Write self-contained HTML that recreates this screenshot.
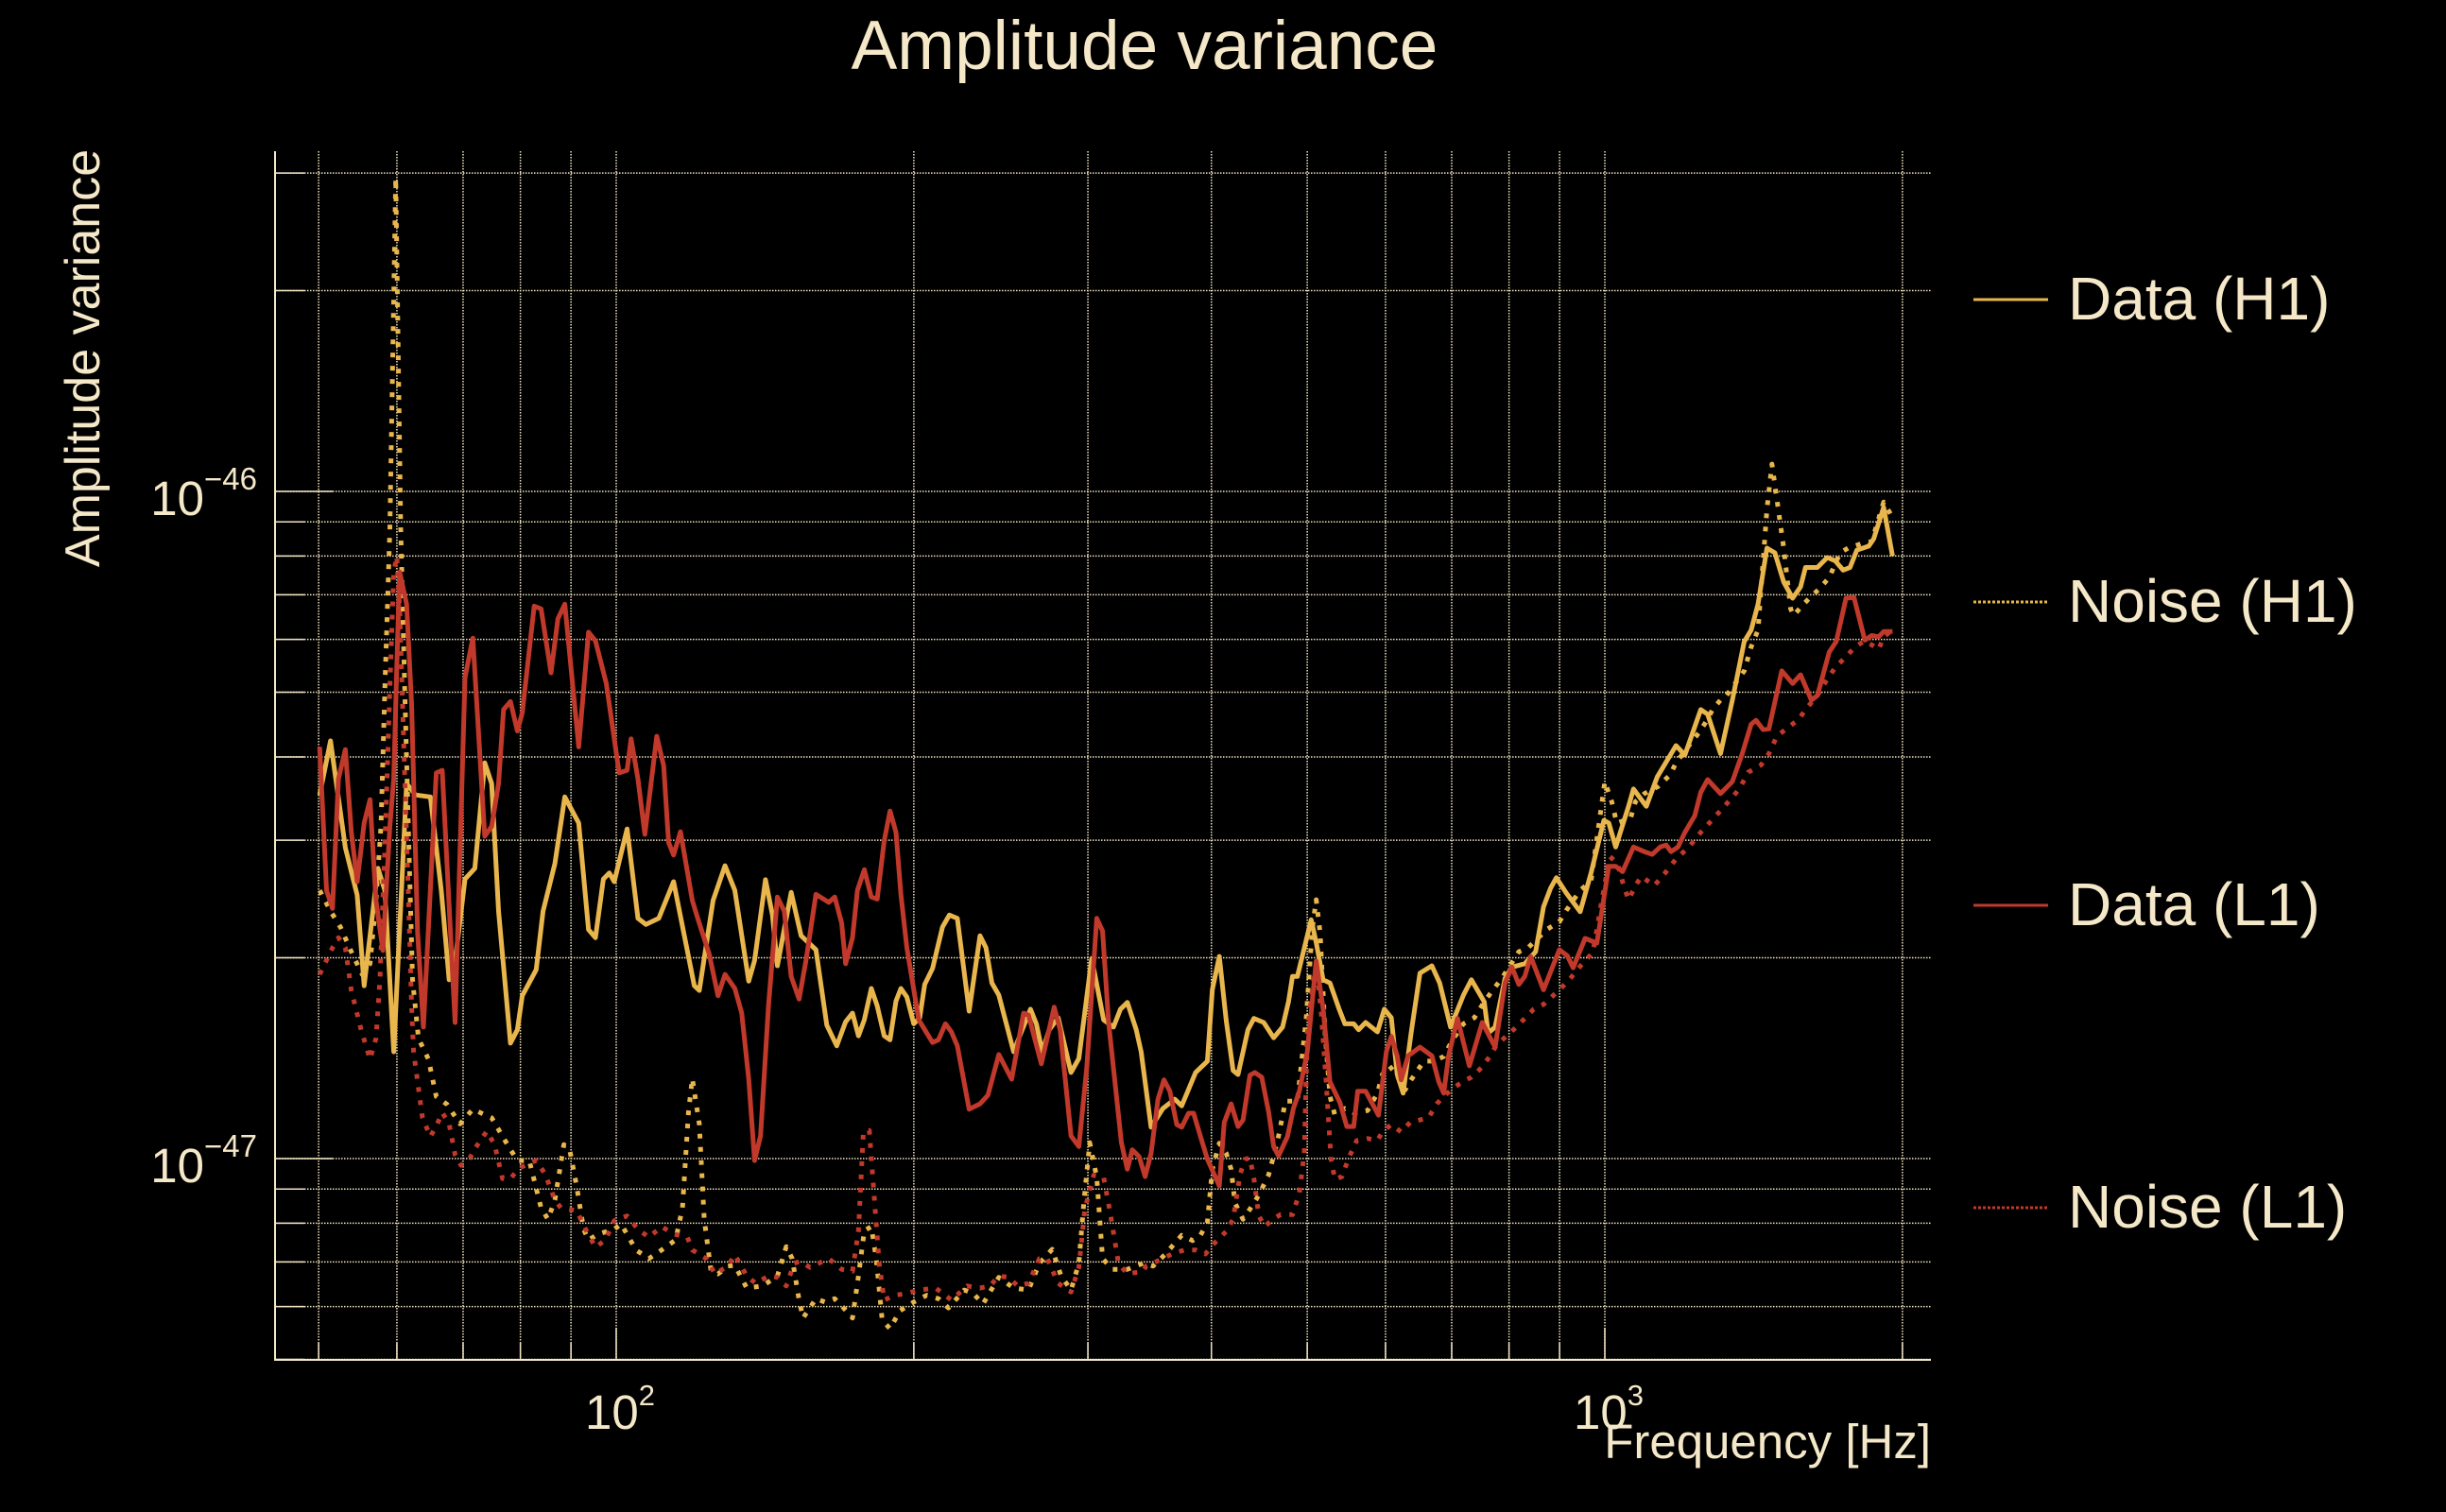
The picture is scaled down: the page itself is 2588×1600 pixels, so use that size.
<!DOCTYPE html>
<html><head><meta charset="utf-8"><title>Amplitude variance</title>
<style>
html,body{margin:0;padding:0;background:#000;}
svg{display:block;font-family:"Liberation Sans",sans-serif;}
</style></head>
<body>
<svg id="chart" width="2588" height="1600" viewBox="0 0 2588 1600" xmlns="http://www.w3.org/2000/svg">
<rect x="0" y="0" width="2588" height="1600" fill="#000"/>
<defs><clipPath id="plotclip"><rect x="292" y="160" width="1751" height="1279"/></clipPath></defs>
<text x="1211" y="73" font-size="73" fill="#f5e8c8" text-anchor="middle">Amplitude variance</text>
<text transform="translate(105,379) rotate(-90)" font-size="52" fill="#f5e8c8" text-anchor="middle">Amplitude variance</text>
<text x="2043" y="1543" font-size="51" fill="#f5e8c8" text-anchor="end">Frequency [Hz]</text>
<g id="grid"></g>
<g id="ticks"></g>
<line x1="291" y1="160" x2="291" y2="1440" stroke="#f5e8c8" stroke-width="2"/>
<line x1="291" y1="1439" x2="2043" y2="1439" stroke="#f5e8c8" stroke-width="2"/>
<g id="series" clip-path="url(#plotclip)"></g>
<g id="legend">
  <g>
    <line x1="2088" y1="317" x2="2167" y2="317" stroke="#e8b64c" stroke-width="3"/>
    <text x="2188" y="338" font-size="64" fill="#f5e8c8">Data (H1)</text>
  </g>
  <g>
    <line x1="2088" y1="637" x2="2167" y2="637" stroke="#e8b64c" stroke-width="3" stroke-dasharray="3 2"/>
    <text x="2188" y="658" font-size="64" fill="#f5e8c8">Noise (H1)</text>
  </g>
  <g>
    <line x1="2088" y1="958" x2="2167" y2="958" stroke="#c0392b" stroke-width="3"/>
    <text x="2188" y="979" font-size="64" fill="#f5e8c8">Data (L1)</text>
  </g>
  <g>
    <line x1="2088" y1="1278" x2="2167" y2="1278" stroke="#c0392b" stroke-width="3" stroke-dasharray="3 2"/>
    <text x="2188" y="1299" font-size="64" fill="#f5e8c8">Noise (L1)</text>
  </g>
</g>
</svg>
<script>
// ---- data (log10 of frequency in Hz, log10 of amplitude variance) ----
const h1DataLogFreq = [1.700,1.711,1.726,1.738,1.745,1.759,1.766,1.775,1.788,1.797,1.812,1.823,1.831,1.838,1.847,1.857,1.867,1.874,1.881,1.893,1.900,1.905,1.919,1.926,1.938,1.948,1.962,1.972,1.979,1.987,1.993,1.998,2.011,2.022,2.030,2.043,2.058,2.079,2.084,2.098,2.110,
2.120,2.134,2.140,2.151,2.158,2.163,2.177,2.187,2.202,2.213,2.223,2.232,2.239,2.245,2.251,2.258,2.264,2.271,2.277,2.283,2.288,2.294,2.301,2.307,2.312,2.320,2.330,2.337,2.345,2.357,2.368,2.374,2.380,2.387,2.402,2.409,2.419,2.425,2.431,2.438,2.447,2.460,2.468,2.481,2.493,2.503,2.510,2.517,2.526,
2.531,2.541,2.553,2.565,2.572,2.586,2.598,2.603,2.610,2.617,2.624,2.629,2.639,2.645,2.655,2.665,2.674,2.680,2.684,2.689,2.703,2.708,2.715,2.722,2.731,2.737,2.746,2.751,2.758,2.770,2.777,2.784,2.790,2.796,2.804,2.813,2.825,2.833,2.844,2.857,2.865,2.878,2.882,2.889,2.899,2.906,2.919,2.930,2.938,
2.945,2.951,2.961,2.975,2.986,2.999,3.004,3.011,3.024,3.029,3.042,3.053,3.072,3.081,3.097,3.104,3.117,3.129,3.141,3.148,3.155,3.164,3.172,3.181,3.190,3.198,3.203,3.215,3.225,3.233,3.241,3.248,3.255,3.267,3.272,3.282,3.291];
const h1DataLogVar = [-46.455,-46.374,-46.534,-46.605,-46.741,-46.565,-46.598,-46.840,-46.438,-46.455,-46.458,-46.598,-46.732,-46.693,-46.581,-46.565,-46.407,-46.438,-46.629,-46.827,-46.807,-46.756,-46.717,-46.629,-46.558,-46.458,-46.497,-46.657,-46.669,-46.581,-46.572,-46.585,-46.506,-46.640,-46.649,-46.640,-46.585,-46.741,-46.748,-46.613,-46.561,
-46.598,-46.734,-46.703,-46.582,-46.635,-46.711,-46.601,-46.666,-46.687,-46.800,-46.831,-46.795,-46.782,-46.816,-46.792,-46.745,-46.771,-46.816,-46.822,-46.764,-46.745,-46.758,-46.798,-46.789,-46.739,-46.715,-46.653,-46.635,-46.640,-46.779,-46.666,-46.684,-46.737,-46.755,-46.840,-46.813,-46.776,-46.798,-46.840,-46.807,-46.789,-46.871,-46.850,-46.700,-46.792,-46.803,-46.776,-46.766,-46.807,
-46.840,-46.953,-46.925,-46.911,-46.921,-46.871,-46.854,-46.747,-46.697,-46.793,-46.868,-46.874,-46.807,-46.790,-46.796,-46.819,-46.803,-46.765,-46.727,-46.727,-46.642,-46.676,-46.732,-46.737,-46.775,-46.798,-46.798,-46.807,-46.796,-46.810,-46.776,-46.789,-46.874,-46.902,-46.812,-46.722,-46.711,-46.737,-46.803,-46.755,-46.732,-46.765,-46.812,-46.803,-46.730,-46.713,-46.708,-46.690,-46.623,
-46.595,-46.579,-46.602,-46.630,-46.572,-46.493,-46.497,-46.533,-46.472,-46.446,-46.472,-46.428,-46.381,-46.395,-46.327,-46.334,-46.393,-46.313,-46.225,-46.208,-46.169,-46.085,-46.092,-46.136,-46.160,-46.143,-46.114,-46.114,-46.099,-46.104,-46.118,-46.114,-46.088,-46.082,-46.071,-46.024,-46.097];

const h1NoiseLogFreq = [1.700,1.711,1.721,1.733,1.743,1.751,1.757,1.762,1.766,1.771,1.777,1.782,1.786,1.791,1.794,1.800,1.810,1.818,1.829,1.842,1.855,1.874,1.890,1.900,1.912,1.924,1.931,1.938,1.947,1.953,1.960,1.967,1.972,1.982,1.998,2.005,2.020,2.033,2.046,2.060,2.067,2.073,2.077,2.084,2.089,2.096,2.103,2.113,
2.120,2.132,2.148,2.163,2.172,2.178,2.185,2.189,2.202,2.211,2.221,2.230,2.239,2.245,2.251,2.258,2.263,2.269,2.277,2.287,2.301,2.314,2.326,2.336,2.352,2.361,2.371,2.378,2.387,2.402,2.417,2.428,2.441,2.450,2.460,2.468,2.473,2.479,2.486,2.492,2.502,2.517,2.533,
2.543,2.555,2.572,2.583,2.591,2.598,2.603,2.610,2.617,2.622,2.626,2.634,2.645,2.651,2.660,2.669,2.677,2.689,2.698,2.704,2.708,2.712,2.717,2.722,2.727,2.737,2.747,2.760,2.770,2.775,2.782,2.789,2.798,2.804,2.817,2.827,2.837,2.846,2.857,2.868,2.878,2.887,2.897,2.913,2.923,2.932,2.942,2.954,
2.961,2.975,2.986,3.000,3.007,3.012,3.026,3.031,3.040,3.054,3.066,3.072,3.085,3.096,3.102,3.109,3.119,3.123,3.141,3.148,3.155,3.164,3.169,3.181,3.188,3.191,3.201,3.209,3.217,3.227,3.238,3.246,3.260,3.270,3.282,3.289];
const h1NoiseLogVar = [-46.598,-46.629,-46.653,-46.693,-46.724,-46.708,-46.613,-46.502,-46.295,-46.057,-45.530,-46.057,-46.295,-46.574,-46.732,-46.820,-46.851,-46.907,-46.919,-46.948,-46.926,-46.939,-46.979,-47.003,-47.003,-47.074,-47.091,-47.062,-46.979,-46.987,-47.042,-47.106,-47.122,-47.113,-47.106,-47.098,-47.137,-47.150,-47.137,-47.122,-47.074,-46.931,-46.880,-46.948,-47.091,-47.170,-47.173,-47.161,
-47.160,-47.194,-47.191,-47.176,-47.132,-47.150,-47.212,-47.239,-47.210,-47.215,-47.210,-47.224,-47.239,-47.176,-47.108,-47.102,-47.150,-47.242,-47.255,-47.228,-47.215,-47.205,-47.210,-47.224,-47.197,-47.202,-47.218,-47.200,-47.178,-47.194,-47.197,-47.157,-47.136,-47.176,-47.197,-47.157,-47.065,-46.976,-47.028,-47.150,-47.166,-47.166,-47.157,
-47.161,-47.144,-47.115,-47.123,-47.115,-47.095,-47.016,-46.977,-46.992,-47.016,-47.067,-47.091,-47.067,-47.052,-47.024,-46.973,-46.914,-46.914,-46.789,-46.656,-46.612,-46.662,-46.812,-46.907,-46.935,-46.925,-46.932,-46.928,-46.902,-46.874,-46.861,-46.874,-46.897,-46.882,-46.854,-46.854,-46.847,-46.822,-46.798,-46.789,-46.765,-46.747,-46.727,-46.690,-46.683,-46.670,-46.656,-46.645,
-46.628,-46.598,-46.584,-46.435,-46.465,-46.497,-46.490,-46.465,-46.453,-46.442,-46.425,-46.407,-46.381,-46.360,-46.346,-46.327,-46.309,-46.306,-46.269,-46.233,-46.208,-46.027,-45.959,-46.085,-46.176,-46.186,-46.169,-46.157,-46.146,-46.129,-46.092,-46.085,-46.078,-46.075,-46.016,-46.034];

const l1DataLogFreq = [1.700,1.707,1.713,1.719,1.726,1.732,1.738,1.745,1.751,1.757,1.764,1.771,1.775,1.778,1.781,1.788,1.793,1.799,1.805,1.818,1.824,1.837,1.847,1.855,1.867,1.874,1.881,1.886,1.893,1.900,1.905,1.917,1.924,1.934,1.941,1.948,1.962,1.972,1.979,1.990,2.003,2.011,2.015,2.022,2.029,2.041,2.048,2.053,2.058,2.065,2.077,2.082,2.094,2.103,2.110,
2.120,2.127,2.134,2.140,2.146,2.154,2.163,2.170,2.177,2.185,2.192,2.202,2.215,2.221,2.228,2.232,2.239,2.244,2.251,2.258,2.264,2.271,2.277,2.283,2.288,2.294,2.306,2.320,2.326,2.333,2.339,2.345,2.357,2.368,2.376,2.387,2.400,2.412,2.417,2.430,2.443,2.449,2.460,2.468,2.476,2.486,2.492,2.498,2.511,2.517,2.522,2.529,
2.535,2.541,2.548,2.554,2.560,2.567,2.572,2.579,2.584,2.591,2.598,2.610,2.615,2.622,2.629,2.634,2.641,2.646,2.653,2.660,2.665,2.670,2.679,2.685,2.691,2.699,2.708,2.715,2.722,2.732,2.739,2.746,2.750,2.758,2.771,2.779,2.784,2.790,2.794,2.801,2.813,2.825,2.832,2.837,2.842,2.851,2.857,2.863,2.876,2.889,2.899,2.906,2.913,2.919,2.925,2.938,2.954,
2.962,2.968,2.980,2.992,3.004,3.011,3.018,3.029,3.040,3.048,3.056,3.062,3.067,3.074,3.081,3.091,3.097,3.104,3.117,3.129,3.139,3.148,3.153,3.160,3.166,3.179,3.190,3.198,3.209,3.215,3.227,3.234,3.244,3.252,3.263,3.270,3.277,3.282,3.291];
const l1DataLogVar = [-46.383,-46.598,-46.625,-46.431,-46.387,-46.510,-46.585,-46.497,-46.462,-46.613,-46.688,-46.502,-46.431,-46.264,-46.121,-46.169,-46.319,-46.660,-46.803,-46.422,-46.418,-46.796,-46.279,-46.220,-46.517,-46.502,-46.438,-46.327,-46.315,-46.359,-46.332,-46.172,-46.176,-46.272,-46.191,-46.169,-46.383,-46.211,-46.224,-46.288,-46.422,-46.418,-46.371,-46.431,-46.514,-46.367,-46.411,-46.526,-46.545,-46.510,-46.613,-46.638,-46.693,-46.756,-46.724,
-46.745,-46.782,-46.881,-47.003,-46.966,-46.771,-46.608,-46.629,-46.727,-46.761,-46.703,-46.604,-46.616,-46.608,-46.647,-46.708,-46.669,-46.598,-46.567,-46.608,-46.611,-46.524,-46.479,-46.511,-46.604,-46.684,-46.792,-46.826,-46.822,-46.798,-46.810,-46.831,-46.926,-46.918,-46.905,-46.844,-46.881,-46.782,-46.785,-46.858,-46.773,-46.807,-46.966,-46.982,-46.863,-46.640,-46.659,-46.795,-46.976,-47.016,-46.987,-46.997,
-47.027,-46.992,-46.911,-46.882,-46.899,-46.949,-46.953,-46.932,-46.932,-46.967,-47.001,-47.041,-46.946,-46.918,-46.952,-46.942,-46.875,-46.871,-46.878,-46.931,-46.982,-46.996,-46.967,-46.925,-46.899,-46.840,-46.704,-46.775,-46.885,-46.916,-46.952,-46.952,-46.899,-46.899,-46.935,-46.840,-46.817,-46.846,-46.882,-46.846,-46.833,-46.846,-46.885,-46.902,-46.846,-46.790,-46.826,-46.861,-46.796,-46.833,-46.737,-46.713,-46.739,-46.727,-46.697,-46.747,-46.687,
-46.696,-46.714,-46.670,-46.677,-46.562,-46.562,-46.570,-46.533,-46.540,-46.544,-46.533,-46.530,-46.540,-46.533,-46.511,-46.486,-46.451,-46.432,-46.453,-46.435,-46.393,-46.349,-46.343,-46.357,-46.356,-46.269,-46.288,-46.275,-46.313,-46.306,-46.241,-46.225,-46.160,-46.159,-46.223,-46.216,-46.218,-46.210,-46.210];

const l1NoiseLogFreq = [1.700,1.713,1.719,1.726,1.732,1.742,1.751,1.757,1.761,1.766,1.771,1.775,1.778,1.781,1.785,1.790,1.793,1.795,1.804,1.812,1.819,1.824,1.831,1.837,1.843,1.852,1.858,1.869,1.877,1.885,1.893,1.902,1.919,1.928,1.938,1.944,1.960,1.969,1.979,1.989,1.998,2.011,2.022,2.033,2.046,2.058,2.072,2.077,2.091,2.100,2.113,
2.120,2.132,2.141,2.154,2.163,2.172,2.180,2.186,2.196,2.215,2.228,2.239,2.245,2.250,2.256,2.261,2.266,2.271,2.282,2.294,2.307,2.323,2.339,2.355,2.368,2.378,2.387,2.397,2.406,2.417,2.428,2.436,2.447,2.460,2.468,2.474,2.483,2.493,2.500,2.508,2.517,2.533,
2.536,2.550,2.562,2.575,2.586,2.596,2.603,2.617,2.624,2.631,2.636,2.641,2.645,2.650,2.656,2.664,2.672,2.684,2.691,2.696,2.699,2.704,2.708,2.713,2.718,2.723,2.727,2.734,2.741,2.749,2.760,2.770,2.775,2.784,2.794,2.803,2.813,2.822,2.830,2.837,2.846,2.856,2.865,2.875,2.884,2.890,2.900,2.909,2.919,2.928,2.938,2.954,
2.964,2.976,2.988,2.995,3.005,3.013,3.019,3.024,3.031,3.037,3.050,3.061,3.072,3.085,3.097,3.110,3.121,3.136,3.145,3.158,3.166,3.174,3.186,3.196,3.203,3.215,3.225,3.234,3.244,3.253,3.263,3.270,3.277,3.282,3.289];
const l1NoiseLogVar = [-46.724,-46.684,-46.669,-46.684,-46.748,-46.807,-46.851,-46.820,-46.732,-46.534,-46.295,-46.121,-46.097,-46.176,-46.374,-46.613,-46.772,-46.840,-46.939,-46.967,-46.948,-46.931,-46.948,-46.994,-47.010,-46.999,-46.983,-46.959,-46.979,-47.030,-47.030,-47.014,-47.003,-47.023,-47.062,-47.074,-47.078,-47.106,-47.133,-47.122,-47.093,-47.086,-47.106,-47.118,-47.102,-47.113,-47.118,-47.137,-47.150,-47.173,-47.161,
-47.144,-47.176,-47.187,-47.176,-47.178,-47.191,-47.157,-47.154,-47.163,-47.150,-47.166,-47.169,-47.108,-46.960,-46.958,-47.058,-47.157,-47.212,-47.205,-47.202,-47.197,-47.194,-47.212,-47.191,-47.194,-47.191,-47.176,-47.178,-47.191,-47.187,-47.150,-47.150,-47.187,-47.200,-47.163,-47.076,-47.025,-47.028,-47.084,-47.157,-47.173,-47.169,
-47.161,-47.152,-47.143,-47.137,-47.137,-47.143,-47.130,-47.109,-47.091,-47.024,-47.001,-46.999,-47.030,-47.086,-47.102,-47.091,-47.084,-47.084,-47.052,-46.992,-46.812,-46.747,-46.708,-46.779,-46.882,-47.001,-47.031,-47.027,-46.999,-46.973,-46.970,-46.973,-46.960,-46.949,-46.960,-46.946,-46.942,-46.938,-46.918,-46.907,-46.895,-46.885,-46.878,-46.864,-46.846,-46.831,-46.817,-46.805,-46.790,-46.776,-46.769,-46.747,
-46.732,-46.710,-46.691,-46.630,-46.547,-46.558,-46.591,-46.612,-46.591,-46.577,-46.591,-46.572,-46.551,-46.533,-46.511,-46.490,-46.472,-46.446,-46.421,-46.410,-46.393,-46.367,-46.353,-46.342,-46.327,-46.306,-46.281,-46.262,-46.248,-46.233,-46.224,-46.230,-46.237,-46.218,-46.210];

// axis ticks / gridlines (Hz and variance values)
const xGridHz = [50,60,70,80,90,100,200,300,400,500,600,700,800,900,1000,2000];
const xMajorHz = [100,1000];
const xMajorLabels = ['2','3'];
const yGridVals = [5e-48,6e-48,7e-48,8e-48,9e-48,1e-47,2e-47,3e-47,4e-47,5e-47,6e-47,7e-47,8e-47,9e-47,1e-46,2e-46,3e-46];
const yMajorVals = [1e-47,1e-46];
const yMajorLabels = ['\u221247','\u221246'];

// ---- axis functions ----
const PX0 = 652, PXD = 1046;
const PY0 = 1226, PYD = 706;
function xScaleLog(lf){ return PX0 + (lf - 2) * PXD; }
function yScaleLog(lv){ return PY0 - (lv + 47) * PYD; }
function xScale(hz){ return xScaleLog(Math.log10(hz)); }
function yScale(v){ return yScaleLog(Math.log10(v)); }

const NS = 'http://www.w3.org/2000/svg';
const CREAM = '#f0e3c2';
const PLOT_L = 292, PLOT_R = 2043, PLOT_T = 160, PLOT_B = 1439;

const grid = document.getElementById('grid');
const ticks = document.getElementById('ticks');
const svg = document.getElementById('chart');

xGridHz.forEach(function(hz){
  const x = xScale(hz);
  const l = document.createElementNS(NS,'line');
  
  
  l.setAttribute('x1', x); l.setAttribute('x2', x);
  l.setAttribute('y1', PLOT_T); l.setAttribute('y2', PLOT_B);
  l.setAttribute('stroke', CREAM); l.setAttribute('stroke-width', '1.5');
  l.setAttribute('stroke-dasharray', '1.5 1.5');
  grid.appendChild(l);
  const major = xMajorHz.indexOf(hz) >= 0;
  const t = document.createElementNS(NS,'line');
  
  
  t.setAttribute('x1', x); t.setAttribute('x2', x);
  t.setAttribute('y1', PLOT_B); t.setAttribute('y2', PLOT_B - (major ? 34 : 18));
  t.setAttribute('stroke', CREAM); t.setAttribute('stroke-width', '1.5');
  ticks.appendChild(t);
});
yGridVals.forEach(function(v){
  const y = yScale(v);
  const l = document.createElementNS(NS,'line');
  
  
  l.setAttribute('x1', PLOT_L); l.setAttribute('x2', PLOT_R);
  l.setAttribute('y1', y); l.setAttribute('y2', y);
  l.setAttribute('stroke', CREAM); l.setAttribute('stroke-width', '1.5');
  l.setAttribute('stroke-dasharray', '1.5 1.5');
  grid.appendChild(l);
  const major = yMajorVals.some(function(m){ return Math.abs(m - v) / m < 1e-6; });
  const t = document.createElementNS(NS,'line');
  
  
  t.setAttribute('x1', PLOT_L); t.setAttribute('x2', PLOT_L + (major ? 60 : 30));
  t.setAttribute('y1', y); t.setAttribute('y2', y);
  t.setAttribute('stroke', CREAM); t.setAttribute('stroke-width', '1.5');
  ticks.appendChild(t);
});

xMajorHz.forEach(function(hz, i){
  const x = xScale(hz);
  const t = document.createElementNS(NS,'text');
  
  
  t.setAttribute('x', x - 33); t.setAttribute('y', 1512);
  t.setAttribute('font-size', '51'); t.setAttribute('fill', '#f5e8c8');
  t.textContent = '10';
  const s = document.createElementNS(NS,'tspan');
  s.setAttribute('dy', '-25'); s.setAttribute('font-size', '31');
  s.textContent = xMajorLabels[i];
  t.appendChild(s);
  svg.appendChild(t);
});
yMajorVals.forEach(function(v, i){
  const y = yScale(v);
  const t = document.createElementNS(NS,'text');
  
  
  t.setAttribute('x', 272); t.setAttribute('y', y + 25);
  t.setAttribute('font-size', '51'); t.setAttribute('fill', '#f5e8c8');
  t.setAttribute('text-anchor', 'end');
  t.textContent = '10';
  const s = document.createElementNS(NS,'tspan');
  s.setAttribute('dy', '-27'); s.setAttribute('font-size', '33');
  s.textContent = yMajorLabels[i];
  t.appendChild(s);
  svg.appendChild(t);
});

function buildPath(lf, lv){
  const n = Math.min(lf.length, lv.length);
  let d = '';
  for (let i = 0; i < n; i++){
    d += (i ? 'L' : 'M') + xScaleLog(lf[i]).toFixed(1) + ' ' + yScaleLog(lv[i]).toFixed(1);
  }
  return d;
}
const seriesG = document.getElementById('series');
function addSeries(name, lf, lv, color, dashed){
  const p = document.createElementNS(NS,'path');
  
  
  p.setAttribute('d', buildPath(lf, lv));
  p.setAttribute('fill', 'none');
  p.setAttribute('stroke', color);
  p.setAttribute('stroke-width', '5');
  p.setAttribute('stroke-linejoin', 'round');
  if (dashed) p.setAttribute('stroke-dasharray', '5 9');
  seriesG.appendChild(p);
}
addSeries('data-h1-line', h1DataLogFreq, h1DataLogVar, '#e8b64c', false);
addSeries('noise-h1-line', h1NoiseLogFreq, h1NoiseLogVar, '#e8b64c', true);
addSeries('data-l1-line', l1DataLogFreq, l1DataLogVar, '#c0392b', false);
addSeries('noise-l1-line', l1NoiseLogFreq, l1NoiseLogVar, '#c0392b', true);
</script>
</body></html>
